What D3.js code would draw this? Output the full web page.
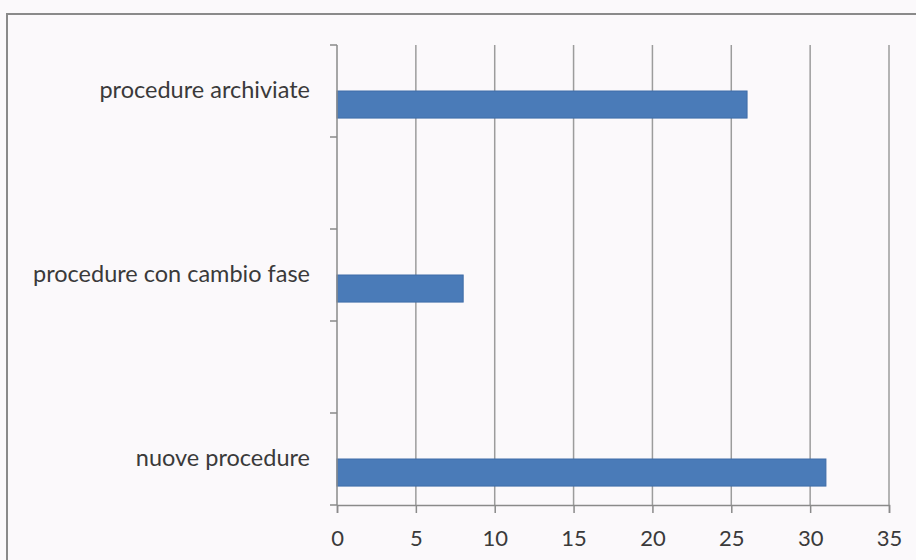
<!DOCTYPE html>
<html>
<head>
<meta charset="utf-8">
<script src="https://cdn.jsdelivr.net/npm/d3@7"></script>
<style>
  body { margin: 0; background: #fbf9fb; }
  svg { display: block; }
  text { font-family: Lato, "Open Sans", sans-serif; fill: #3a3a3a; }
</style>
</head>
<body>
<svg id="chart"></svg>
<script>
// categorie dall'alto verso il basso (due righe vuote come nel grafico originale)
const categories = ["procedure archiviate", "", "procedure con cambio fase", "", "nuove procedure"];
const values = [26, null, 8, null, 31];
const seriesKeys = ["serie2", "serie1"]; // serie2 vuota, serie1 visibile sotto
const xTicks = [0, 5, 10, 15, 20, 25, 30, 35];

const width = 916;
const height = 560;
const margin = { top: 45, right: 27, bottom: 55, left: 337 };

const svg = d3.select("#chart")
    .attr("width", width)
    .attr("height", height);

// cornice esterna
svg.append("path")
    .attr("d", `M7,${height} V14 H${width}`)
    .attr("fill", "none")
    .attr("stroke", "#8a8a8a")
    .attr("stroke-width", 2);

const x = d3.scaleLinear()
    .domain([0, 35])
    .range([margin.left, width - margin.right]);

const y = d3.scaleBand()
    .domain(d3.range(categories.length))
    .range([margin.top, height - margin.bottom]);

const ySub = d3.scaleBand()
    .domain(seriesKeys)
    .range([0, y.bandwidth()])
    .paddingInner(0)
    .paddingOuter(0.7);

// griglia verticale
svg.append("g")
    .selectAll("line")
    .data(xTicks.slice(1))
    .join("line")
    .attr("x1", d => x(d))
    .attr("x2", d => x(d))
    .attr("y1", margin.top)
    .attr("y2", height - margin.bottom)
    .attr("stroke", "#9c9c9c")
    .attr("stroke-width", 1.5);

// barre
svg.append("g")
    .selectAll("rect")
    .data(values.map((v, i) => ({ i, v })).filter(d => d.v !== null))
    .join("rect")
    .attr("x", x(0))
    .attr("y", d => y(d.i) + ySub("serie1"))
    .attr("width", d => x(d.v) - x(0))
    .attr("height", ySub.bandwidth())
    .attr("fill", "#4a7bb8")
    .attr("stroke", "#3f6da8")
    .attr("stroke-width", 1);

// asse x
const xAxis = svg.append("g")
    .attr("transform", `translate(0,${height - margin.bottom})`)
    .call(d3.axisBottom(x).tickValues(xTicks).tickSize(8).tickPadding(17));
xAxis.select(".domain").attr("stroke", "#8a8a8a").attr("stroke-width", 1.5);
xAxis.selectAll(".tick line").attr("stroke", "#8a8a8a").attr("stroke-width", 1.5);
xAxis.selectAll(".tick text").style("font-size", "22px").attr("fill", "#3a3a3a");

// asse y: tacche ai bordi delle categorie
const edges = d3.range(categories.length + 1).map(i => margin.top + i * y.step());
svg.append("line")
    .attr("x1", x(0)).attr("x2", x(0))
    .attr("y1", margin.top).attr("y2", height - margin.bottom)
    .attr("stroke", "#8a8a8a").attr("stroke-width", 1.5);
svg.append("g")
    .selectAll("line")
    .data(edges)
    .join("line")
    .attr("x1", x(0) - 7).attr("x2", x(0))
    .attr("y1", d => d).attr("y2", d => d)
    .attr("stroke", "#8a8a8a").attr("stroke-width", 1.5);

svg.append("g")
    .selectAll("text")
    .data(categories)
    .join("text")
    .attr("x", x(0) - 27)
    .attr("y", (d, i) => y(i) + y.bandwidth() / 2 - 1)
    .attr("dy", "0.35em")
    .attr("text-anchor", "end")
    .style("font-size", "23.5px")
    .text(d => d);
</script>
</body>
</html>
